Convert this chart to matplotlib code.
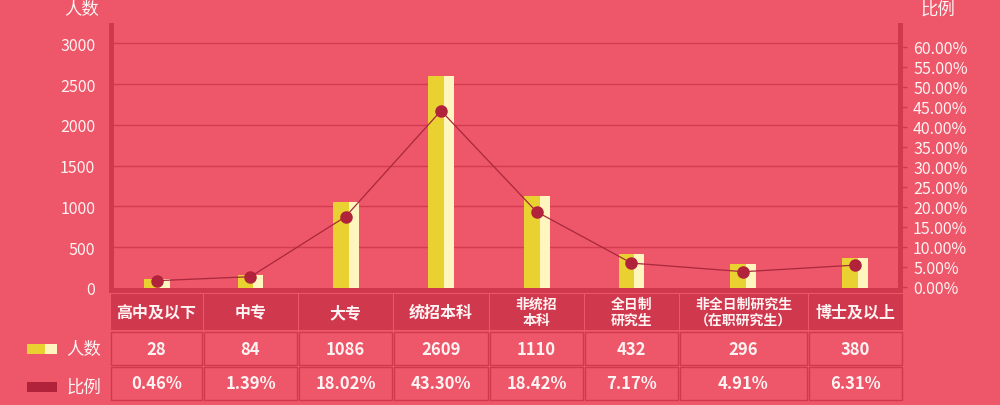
import matplotlib
matplotlib.use("Agg")
import matplotlib.pyplot as plt
from matplotlib.patches import Rectangle
import numpy as np

plt.rcParams["font.family"] = ["Noto Sans CJK SC", "DejaVu Sans"]

# * data
categories = ["高中及以下", "中专", "大专", "统招本科", "非统招\n本科",
              "全日制\n研究生", "非全日制研究生\n（在职研究生）", "博士及以上"]
bar_heights = [110, 159, 1053, 2600, 1126, 416, 294, 367]      # bars as drawn
line_percent = [1.5, 2.5, 17.5, 44.0, 18.75, 5.9, 3.75, 5.4]    # points as drawn
count_labels = ["28", "84", "1086", "2609", "1110", "432", "296", "380"]
ratio_labels = ["0.46%", "1.39%", "18.02%", "43.30%", "18.42%", "7.17%", "4.91%", "6.31%"]
left_ticks = [0, 500, 1000, 1500, 2000, 2500, 3000]
right_ticks = [0, 5, 10, 15, 20, 25, 30, 35, 40, 45, 50, 55, 60]

# * layout (pixels) and colours
W, H = 1000, 406
col_widths = [93, 95, 95, 96, 95, 95, 129, 95]
table_x0 = 110
BG = "#EE5669"
DARK = "#D0384E"
GRID = "#D43B51"
YELLOW = "#E8D130"
PALE = "#FFF5BE"
MARK = "#B0233A"
LINE = "#A8283C"
TXT = "#FFF3F3"


def fx(px):
    return px / W


def fy(py):
    return 1 - py / H


def rect(x0, y0, x1, y1, **kw):
    fig.patches.append(Rectangle((fx(x0), fy(y1)), fx(x1) - fx(x0), fy(y0) - fy(y1),
                                 transform=fig.transFigure, figure=fig, **kw))


fig = plt.figure(figsize=(W / 100, H / 100), dpi=100, facecolor=BG)

# plot area from x=114..898, y=24..289
ax = fig.add_axes([fx(114), fy(289), fx(898) - fx(114), fy(24) - fy(289)])
ax.set_facecolor(BG)
for s in ax.spines.values():
    s.set_visible(False)

edges = np.concatenate([[0], np.cumsum(col_widths)])
centers = (edges[:-1] + edges[1:]) / 2
ax.set_xlim(114 - table_x0, 898 - table_x0)
ax.set_ylim(0, 3000 * 265 / 244.7)

for t in left_ticks[1:]:
    ax.axhline(t, color=GRID, lw=1.0, zorder=0)

ax.bar(centers - 13, bar_heights, width=16, align="edge", color=YELLOW, zorder=2)
ax.bar(centers + 3, bar_heights, width=10, align="edge", color=PALE, zorder=2)

ax.set_xticks([])
ax.set_yticks(left_ticks)
ax.set_yticklabels([str(t) for t in left_ticks])
ax.tick_params(axis="y", length=0, pad=13.5, labelsize=11.5, labelcolor=TXT)

ax2 = ax.twinx()
for s in ax2.spines.values():
    s.set_visible(False)
ax2.set_ylim(-1.3 / 4, (265 - 1.3) / 4)
ax2.plot(centers, line_percent, color=LINE, lw=0.9, marker="o", markersize=8,
         markerfacecolor=MARK, markeredgecolor=MARK, zorder=3)
ax2.set_yticks(right_ticks)
ax2.set_yticklabels([f"{t:.2f}%" for t in right_ticks])
ax2.tick_params(axis="y", length=6.5, width=1, color=DARK, pad=4.3,
                labelsize=11.5, labelcolor=TXT)

# * thick axis frame
rect(109, 24, 114, 294, color=DARK, lw=0)
rect(898, 24, 903, 294, color=DARK, lw=0)
rect(109, 289, 903, 294, color=DARK, lw=0)

fig.text(fx(82), fy(10), "人数", color=TXT, fontsize=12.5, ha="center", va="center")
fig.text(fx(938), fy(10), "比例", color=TXT, fontsize=12.5, ha="center", va="center")

# * table under the chart
xs = table_x0 + edges
for i, cat in enumerate(categories):
    x0, x1 = xs[i], xs[i + 1]
    xc = (x0 + x1) / 2
    rect(x0 + 0.5, 295, x1 - 0.5, 331, color=DARK, lw=0)
    rect(x0 + 1, 332.5, x1 - 1, 366, facecolor=BG, edgecolor=DARK, lw=1)
    rect(x0 + 1, 367.5, x1 - 1, 401, facecolor=BG, edgecolor=DARK, lw=1)
    two_line = "\n" in cat
    fig.text(fx(xc), fy(313), cat, color=TXT, fontsize=10 if two_line else 11.5,
             fontweight="bold", ha="center", va="center", linespacing=1.15)
    fig.text(fx(xc), fy(350), count_labels[i], color=TXT, fontsize=12,
             fontweight="bold", ha="center", va="center")
    fig.text(fx(xc), fy(384), ratio_labels[i], color=TXT, fontsize=12,
             fontweight="bold", ha="center", va="center")

# * legend at the left of the table
rect(27, 345, 45, 355, color=YELLOW, lw=0)
rect(45, 345, 57, 355, color=PALE, lw=0)
rect(27, 383, 57, 393, color=MARK, lw=0)
fig.text(fx(66), fy(350), "人数", color=TXT, fontsize=12.5, ha="left", va="center")
fig.text(fx(66), fy(388), "比例", color=TXT, fontsize=12.5, ha="left", va="center")

fig.savefig("out.png", dpi=100, facecolor=BG)
